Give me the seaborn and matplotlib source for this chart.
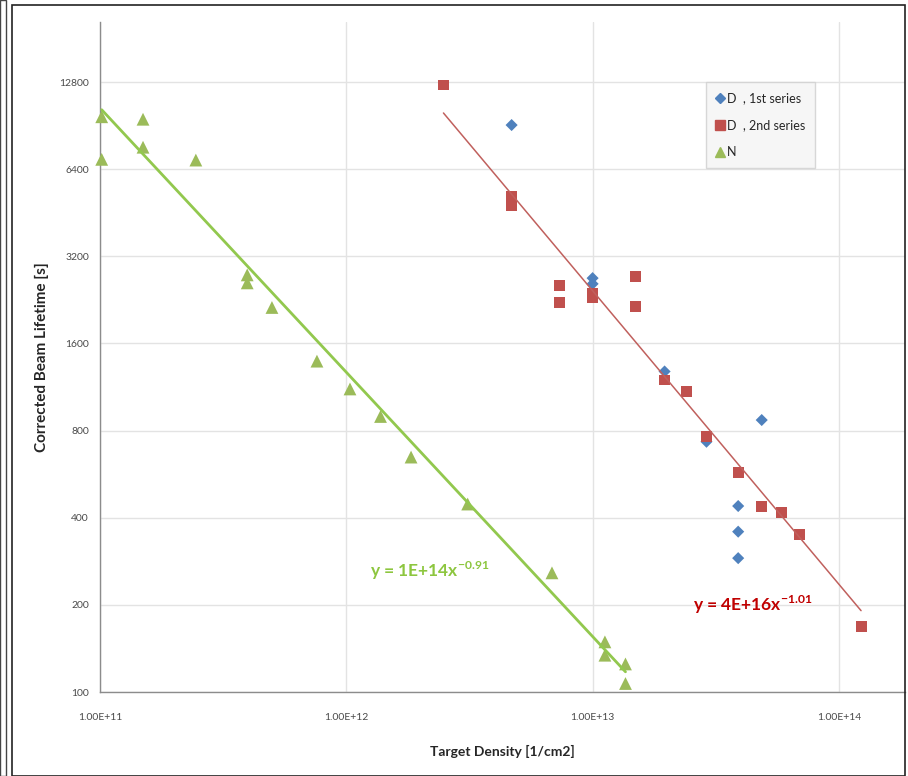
import numpy as np
import pandas as pd
import matplotlib
matplotlib.use("Agg")
import matplotlib.pyplot as plt
import seaborn as sns
from matplotlib.ticker import FixedLocator, FixedFormatter, NullLocator
from matplotlib.lines import Line2D
from matplotlib.patches import Rectangle

# ---- data -----------------------------------------------------------------
# D, 1st series
d1_density = [4.69e12, 1.0e13, 1.0e13, 1.96e13, 2.90e13, 4.86e13, 3.90e13, 3.90e13, 3.90e13]
d1_lifetime = [9090, 2690, 2570, 1280, 732, 870, 439, 358, 290]

# D, 2nd series
d2_density = [2.48e12, 4.69e12, 4.69e12, 7.37e12, 7.37e12, 1.0e13, 1.0e13, 1.49e13, 1.49e13,
              1.96e13, 2.41e13, 2.90e13, 3.90e13, 4.86e13, 5.86e13, 6.89e13, 1.23e14]
d2_lifetime = [12500, 5140, 4810, 2530, 2210, 2380, 2310, 2720, 2140,
               1196, 1090, 762, 572, 437, 416, 351, 169]

# N
n_density = [1.016e11, 1.016e11, 1.495e11, 1.495e11, 2.45e11, 3.96e11, 3.96e11, 4.99e11,
             7.60e11, 1.035e12, 1.377e12, 1.832e12, 3.11e12, 6.84e12, 1.122e13, 1.122e13,
             1.36e13, 1.36e13]
n_lifetime = [9710, 6920, 9520, 7620, 6880, 2760, 2590, 2130,
              1390, 1114, 895, 648, 446, 258, 149, 134, 125, 107]

# power-law trend lines  y = a * x^b
n_fit = (1.15e14, -0.913)
d2_fit = (3.70e16, -1.014)

y_ticks = [100, 200, 400, 800, 1600, 3200, 6400, 12800]
x_ticks = [1e11, 1e12, 1e13, 1e14]
x_tick_labels = ["1.00E+11", "1.00E+12", "1.00E+13", "1.00E+14"]

# ---- style ----------------------------------------------------------------
sns.set_theme(style="white")
plt.rcParams["font.family"] = ["Lato", "DejaVu Sans"]
plt.rcParams["mathtext.fontset"] = "custom"
plt.rcParams["mathtext.rm"] = "Lato"
plt.rcParams["mathtext.bf"] = "Lato:bold"

BLUE = "#4F81BD"
RED = "#C0504D"
GREEN = "#9BBB59"
GREEN_LINE = "#92C84E"

fig = plt.figure(figsize=(9.08, 7.76), dpi=100)
ax = fig.add_axes([100 / 908, 84 / 776, 805 / 908, 670 / 776])

df1 = pd.DataFrame({"density": d1_density, "lifetime": d1_lifetime})
df2 = pd.DataFrame({"density": d2_density, "lifetime": d2_lifetime})
dfn = pd.DataFrame({"density": n_density, "lifetime": n_lifetime})

sns.scatterplot(data=df1, x="density", y="lifetime", marker="D", s=38, color=BLUE,
                edgecolor="none", ax=ax, zorder=3, clip_on=False)
sns.scatterplot(data=df2, x="density", y="lifetime", marker="s", s=62, color=RED,
                edgecolor="none", ax=ax, zorder=3, clip_on=False)
sns.scatterplot(data=dfn, x="density", y="lifetime", marker="^", s=85, color=GREEN,
                edgecolor="none", ax=ax, zorder=3, clip_on=False)


def trend(xs, fit):
    xr = np.logspace(np.log10(min(xs)), np.log10(max(xs)), 50)
    return xr, fit[0] * xr ** fit[1]


xr, yr = trend(n_density, n_fit)
ax.plot(xr, yr, color=GREEN_LINE, lw=2.0, zorder=4)
xr, yr = trend(d2_density, d2_fit)
ax.plot(xr, yr, color="#C0605D", lw=1.1, zorder=4)

ax.set_xscale("log")
ax.set_yscale("log", base=2)
ax.set_xlim(1e11, 10 ** (11 + 805 / 246.3))
ax.set_ylim(100, 100 * 2 ** (670 / 87.14))

ax.xaxis.set_major_locator(FixedLocator(x_ticks))
ax.xaxis.set_major_formatter(FixedFormatter(x_tick_labels))
ax.xaxis.set_minor_locator(NullLocator())
ax.yaxis.set_major_locator(FixedLocator(y_ticks))
ax.yaxis.set_major_formatter(FixedFormatter([str(v) for v in y_ticks]))
ax.yaxis.set_minor_locator(NullLocator())

ax.grid(True, which="major", color="#E3E3E3", lw=1.0)
ax.set_axisbelow(True)
for side in ("top", "right"):
    ax.spines[side].set_visible(False)
for side in ("left", "bottom"):
    ax.spines[side].set_color("#8C8C8C")
    ax.spines[side].set_linewidth(1.0)
ax.tick_params(axis="both", which="major", direction="out", length=5, width=1,
               color="#8C8C8C", labelsize=7.5, labelcolor="#4A4A4A", pad=3)
ax.tick_params(axis="x", pad=10)

ax.set_xlabel("Target Density [1/cm2]", fontsize=10, fontweight="bold",
              color="#262626", labelpad=17)
ax.set_ylabel("Corrected Beam Lifetime [s]", fontsize=11, fontweight="bold",
              color="#262626", labelpad=7)

# trend line equations
def eq_label(fit):
    mant, expo = f"{fit[0]:.0E}".split("E")
    return "y = %sE+%d" % (mant, int(expo)) + "x$^{\\mathbf{%.2f}}$" % fit[1]

ax.text(1.25e12, 262, eq_label(n_fit), color="#8DC63F", fontsize=12.5,
        fontweight="bold", ha="left", va="center")
ax.text(2.56e13, 200, eq_label(d2_fit), color="#C00000", fontsize=12.5,
        fontweight="bold", ha="left", va="center")

handles = [
    Line2D([], [], marker="D", color=BLUE, ls="none", markersize=5),
    Line2D([], [], marker="s", color=RED, ls="none", markersize=7),
    Line2D([], [], marker="^", color=GREEN, ls="none", markersize=7),
]
leg = ax.legend(handles, ["D  , 1st series", "D  , 2nd series", "N"],
                loc="upper left", bbox_to_anchor=(606 / 805, 1 - 60 / 670),
                frameon=True, fancybox=False, fontsize=9, handlelength=0.6,
                handletextpad=0.3, labelspacing=1.2, borderpad=0.8,
                borderaxespad=0)
leg.get_frame().set_facecolor("#F4F4F4")
leg.get_frame().set_edgecolor("#CFCFCF")
leg.get_frame().set_linewidth(1.0)

# chart frame
fig.patches.append(Rectangle((12 / 908, 0), (905 - 12) / 908, 771 / 776,
                             transform=fig.transFigure, fill=False,
                             edgecolor="#222222", lw=1.2))
fig.patches.append(Rectangle((0, 0), 6 / 908, 1, transform=fig.transFigure,
                             fill=False, edgecolor="#444444", lw=1.0))

fig.savefig("out.png", dpi=100)
